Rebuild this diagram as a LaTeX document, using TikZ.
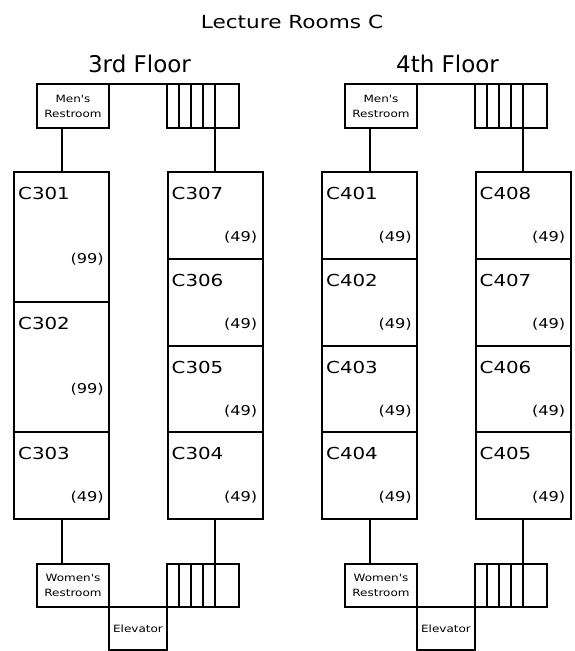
\documentclass[tikz,border=0pt]{standalone}
\usepackage{fontspec}
\setmainfont[Ligatures=TeXOff]{DejaVu Sans}
\newfontfamily\widefont[FakeStretch=1.2,Ligatures=TeXOff]{DejaVu Sans}
\usetikzlibrary{positioning}

\tikzset{
  room/.style={shape=rectangle, draw, line width=2pt, outer sep=0pt, inner sep=0pt,
    minimum width=95pt, minimum height=86.75pt},
  tall/.style={minimum height=130.125pt},
  facility/.style={shape=rectangle, draw, line width=2pt, outer sep=0pt, inner sep=0pt,
    minimum width=72pt, minimum height=43.5pt, align=center,
    font=\widefont\fontsize{10}{15}\selectfont},
  rname/.style={anchor=west, inner sep=0pt, font=\widefont\fontsize{16.5}{18}\selectfont},
  rcap/.style={anchor=east, inner sep=0pt, font=\widefont\fontsize{13.5}{15}\selectfont},
  floor/.style={inner sep=0pt, font=\fontsize{23}{25}\selectfont},
  link/.style={line width=2pt}
}

\begin{document}
\begin{tikzpicture}[x=1pt,y=-1pt]
\useasboundingbox (0,0) rectangle (574,651);

\path (292,22) node (title) [inner sep=0pt, font=\widefont\fontsize{18}{20}\selectfont] {Lecture Rooms C};

% 3rd floor
\path (139.5,63.5) node (F3) [floor] {3rd Floor};

\path (61.5,172) node (C301) [room, tall, anchor=north] {};
\node (C302) [room, tall, below=0pt of C301] {};
\node (C303) [room, below=0pt of C302] {};
\path (215,172) node (C307) [room, anchor=north] {};
\node (C306) [room, below=0pt of C307] {};
\node (C305) [room, below=0pt of C306] {};
\node (C304) [room, below=0pt of C305] {};

\path (C301.north west) ++(4,21.5) node (C301n) [rname] {C301};
\path (C302.north west) ++(4,21.5) node (C302n) [rname] {C302};
\path (C303.north west) ++(4,21.5) node (C303n) [rname] {C303};
\path (C307.north west) ++(4,21.5) node (C307n) [rname] {C307};
\path (C306.north west) ++(4,21.5) node (C306n) [rname] {C306};
\path (C305.north west) ++(4,21.5) node (C305n) [rname] {C305};
\path (C304.north west) ++(4,21.5) node (C304n) [rname] {C304};
\path (C301.east) ++(-5,22) node (C301c) [rcap] {(99)};
\path (C302.east) ++(-5,22) node (C302c) [rcap] {(99)};
\path (C303.east) ++(-5,22) node (C303c) [rcap] {(49)};
\path (C307.east) ++(-5,22) node (C307c) [rcap] {(49)};
\path (C306.east) ++(-5,22) node (C306c) [rcap] {(49)};
\path (C305.east) ++(-5,22) node (C305c) [rcap] {(49)};
\path (C304.east) ++(-5,22) node (C304c) [rcap] {(49)};

\path (73,106) node (MR3) [facility, minimum height=44pt] {Men's\\Restroom};
\path (203,106) node (ST3u) [facility, minimum height=44pt] {};
\path (73,585.5) node (WR3) [facility] {Women's\\Restroom};
\path (203,585.5) node (ST3d) [facility] {};
\path (138,628.5) node (EL3) [facility, minimum width=58pt] {Elevator};

\foreach \i in {1,...,4} {
  \draw [link] ([xshift=12*\i]ST3u.north west) -- ([xshift=12*\i]ST3u.south west);
  \draw [link] ([xshift=12*\i]ST3d.north west) -- ([xshift=12*\i]ST3d.south west);
}
\draw [link] (MR3.north east) -- (ST3u.north west);
\draw [link] (C301.north) -- (C301.north |- MR3.south);
\draw [link] (C307.north) -- (C307.north |- ST3u.south);
\draw [link] (C303.south) -- (C303.south |- WR3.north);
\draw [link] (C304.south) -- (C304.south |- ST3d.north);

% 4th floor
\path (447.5,63.5) node (F4) [floor] {4th Floor};

\path (369.5,172) node (C401) [room, anchor=north] {};
\node (C402) [room, below=0pt of C401] {};
\node (C403) [room, below=0pt of C402] {};
\node (C404) [room, below=0pt of C403] {};
\path (523,172) node (C408) [room, anchor=north] {};
\node (C407) [room, below=0pt of C408] {};
\node (C406) [room, below=0pt of C407] {};
\node (C405) [room, below=0pt of C406] {};

\path (C401.north west) ++(4,21.5) node (C401n) [rname] {C401};
\path (C402.north west) ++(4,21.5) node (C402n) [rname] {C402};
\path (C403.north west) ++(4,21.5) node (C403n) [rname] {C403};
\path (C404.north west) ++(4,21.5) node (C404n) [rname] {C404};
\path (C408.north west) ++(4,21.5) node (C408n) [rname] {C408};
\path (C407.north west) ++(4,21.5) node (C407n) [rname] {C407};
\path (C406.north west) ++(4,21.5) node (C406n) [rname] {C406};
\path (C405.north west) ++(4,21.5) node (C405n) [rname] {C405};
\path (C401.east) ++(-5,22) node (C401c) [rcap] {(49)};
\path (C402.east) ++(-5,22) node (C402c) [rcap] {(49)};
\path (C403.east) ++(-5,22) node (C403c) [rcap] {(49)};
\path (C404.east) ++(-5,22) node (C404c) [rcap] {(49)};
\path (C408.east) ++(-5,22) node (C408c) [rcap] {(49)};
\path (C407.east) ++(-5,22) node (C407c) [rcap] {(49)};
\path (C406.east) ++(-5,22) node (C406c) [rcap] {(49)};
\path (C405.east) ++(-5,22) node (C405c) [rcap] {(49)};

\path (381,106) node (MR4) [facility, minimum height=44pt] {Men's\\Restroom};
\path (511,106) node (ST4u) [facility, minimum height=44pt] {};
\path (381,585.5) node (WR4) [facility] {Women's\\Restroom};
\path (511,585.5) node (ST4d) [facility] {};
\path (446,628.5) node (EL4) [facility, minimum width=58pt] {Elevator};

\foreach \i in {1,...,4} {
  \draw [link] ([xshift=12*\i]ST4u.north west) -- ([xshift=12*\i]ST4u.south west);
  \draw [link] ([xshift=12*\i]ST4d.north west) -- ([xshift=12*\i]ST4d.south west);
}
\draw [link] (MR4.north east) -- (ST4u.north west);
\draw [link] (C401.north) -- (C401.north |- MR4.south);
\draw [link] (C408.north) -- (C408.north |- ST4u.south);
\draw [link] (C404.south) -- (C404.south |- WR4.north);
\draw [link] (C405.south) -- (C405.south |- ST4d.north);

\end{tikzpicture}
\end{document}
